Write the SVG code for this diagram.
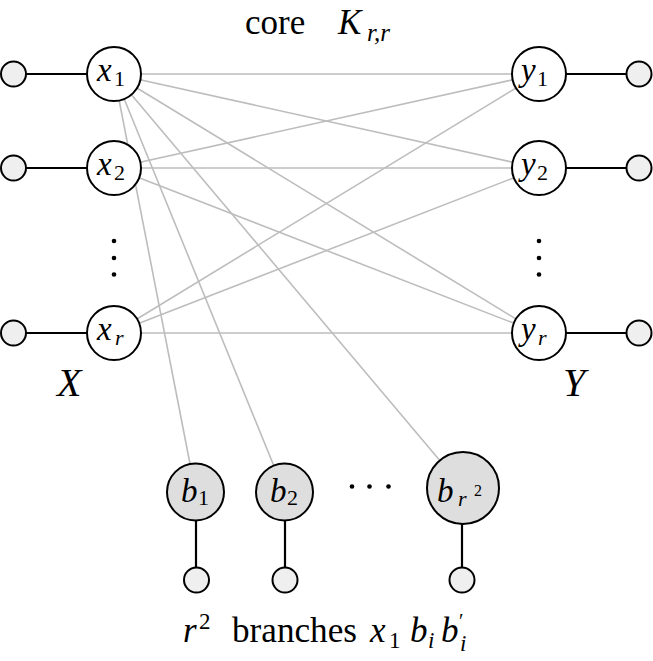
<svg xmlns="http://www.w3.org/2000/svg" width="653" height="661" viewBox="0 0 653 661">
<style>
.core{stroke:#bdbdbd;stroke-width:1.6;fill:none}
.pend{stroke:#000;stroke-width:2.2;fill:none}
.main{fill:#fff;stroke:#000;stroke-width:2}
.leaf{fill:#efefef;stroke:#000;stroke-width:2}
.br{fill:#dedede;stroke:#000;stroke-width:2}
.dot{fill:#000}
</style>
<g id="connectors">
  <line class="core" x1="114" y1="74" x2="539" y2="74"/>
  <line class="core" x1="114" y1="74" x2="539" y2="168"/>
  <line class="core" x1="114" y1="74" x2="539" y2="333"/>
  <line class="core" x1="114" y1="168" x2="539" y2="74"/>
  <line class="core" x1="114" y1="168" x2="539" y2="168"/>
  <line class="core" x1="114" y1="168" x2="539" y2="333"/>
  <line class="core" x1="114" y1="333" x2="539" y2="74"/>
  <line class="core" x1="114" y1="333" x2="539" y2="168"/>
  <line class="core" x1="114" y1="333" x2="539" y2="333"/>
  <line class="core" x1="114" y1="74" x2="195.5" y2="492"/>
  <line class="core" x1="114" y1="74" x2="284.5" y2="492"/>
  <line class="core" x1="114" y1="74" x2="463" y2="488"/>
  <line class="pend" x1="13.5" y1="74" x2="87" y2="74"/>
  <line class="pend" x1="13.5" y1="168" x2="87" y2="168"/>
  <line class="pend" x1="13.5" y1="333" x2="87" y2="333"/>
  <line class="pend" x1="566" y1="74" x2="639" y2="74"/>
  <line class="pend" x1="566" y1="168" x2="639" y2="168"/>
  <line class="pend" x1="566" y1="333" x2="639" y2="333"/>
  <line class="pend" x1="196" y1="520" x2="196" y2="580"/>
  <line class="pend" x1="285" y1="520" x2="285" y2="580"/>
  <line class="pend" x1="462" y1="524" x2="462" y2="580"/>
</g>
<g font-family="Liberation Serif, DejaVu Serif, serif" fill="#000">
<g id="leaf-x1"><circle class="leaf" cx="13.5" cy="74" r="12.5"/></g>
<g id="leaf-x2"><circle class="leaf" cx="13.5" cy="168" r="12.5"/></g>
<g id="leaf-xr"><circle class="leaf" cx="13.5" cy="333" r="12.5"/></g>
<g id="leaf-y1"><circle class="leaf" cx="639" cy="74" r="12.5"/></g>
<g id="leaf-y2"><circle class="leaf" cx="639" cy="168" r="12.5"/></g>
<g id="leaf-yr"><circle class="leaf" cx="639" cy="333" r="12.5"/></g>
<g id="node-x1"><circle class="main" cx="114" cy="74" r="27"/><text font-style="italic" font-size="33" x="97" y="81">x</text><text font-size="22" x="114" y="86">1</text></g>
<g id="node-x2"><circle class="main" cx="114" cy="168" r="27"/><text font-style="italic" font-size="33" x="97" y="175">x</text><text font-size="22" x="114" y="180">2</text></g>
<g id="node-xr"><circle class="main" cx="114" cy="333" r="27"/><text font-style="italic" font-size="33" x="97" y="340">x</text><text font-style="italic" font-size="22" x="115" y="345">r</text></g>
<g id="node-y1"><circle class="main" cx="539" cy="74" r="27"/><text font-style="italic" font-size="33" x="521" y="81">y</text><text font-size="22" x="537" y="86">1</text></g>
<g id="node-y2"><circle class="main" cx="539" cy="168" r="27"/><text font-style="italic" font-size="33" x="521" y="175">y</text><text font-size="22" x="537" y="180">2</text></g>
<g id="node-yr"><circle class="main" cx="539" cy="333" r="27"/><text font-style="italic" font-size="33" x="521" y="340">y</text><text font-style="italic" font-size="22" x="538" y="345">r</text></g>
<g id="node-b1"><circle class="br" cx="195.5" cy="492" r="28.5"/><text font-style="italic" font-size="33" x="181" y="502">b</text><text font-size="22" x="198" y="505">1</text></g>
<g id="node-b2"><circle class="br" cx="284.5" cy="492" r="28.5"/><text font-style="italic" font-size="33" x="270" y="502">b</text><text font-size="22" x="287" y="505">2</text></g>
<g id="node-br2"><circle class="br" cx="463" cy="488" r="36"/><text font-style="italic" font-size="33" x="437" y="502">b</text><text font-style="italic" font-size="22" x="458" y="506">r</text><text font-size="16" x="474" y="496">2</text></g>
<g id="leaf-b1"><circle class="leaf" cx="196.5" cy="580" r="12.5"/></g>
<g id="leaf-b2"><circle class="leaf" cx="285" cy="580" r="12.5"/></g>
<g id="leaf-br2"><circle class="leaf" cx="462" cy="580" r="12.5"/></g>
<g id="vdots-left"><circle class="dot" cx="114" cy="241" r="2.3"/><circle class="dot" cx="114" cy="258" r="2.3"/><circle class="dot" cx="114" cy="274.5" r="2.3"/></g>
<g id="vdots-right"><circle class="dot" cx="539" cy="241" r="2.3"/><circle class="dot" cx="539" cy="258" r="2.3"/><circle class="dot" cx="539" cy="274.5" r="2.3"/></g>
<g id="hdots"><circle class="dot" cx="352" cy="486.5" r="2.3"/><circle class="dot" cx="369.5" cy="486.5" r="2.3"/><circle class="dot" cx="388.5" cy="486.5" r="2.3"/></g>
<g id="label-top">
  <text font-size="35" x="245" y="34">core</text>
  <text font-style="italic" font-size="35" x="338" y="34">K</text>
  <text font-style="italic" font-size="25" x="367" y="41">r,r</text>
</g>
<g id="label-X"><text font-style="italic" font-size="40" x="57" y="396">X</text></g>
<g id="label-Y"><text font-style="italic" font-size="40" x="563" y="396">Y</text></g>
<g id="label-bottom">
  <text font-style="italic" font-size="35" x="183" y="642">r</text>
  <text font-size="23" x="199" y="629">2</text>
  <text font-size="35" x="232" y="642" textLength="125" lengthAdjust="spacingAndGlyphs">branches</text>
  <text font-style="italic" font-size="35" x="370" y="642">x</text>
  <text font-size="23" x="389" y="648">1</text>
  <text font-style="italic" font-size="35" x="410" y="642">b</text>
  <text font-style="italic" font-size="23" x="428" y="648">i</text>
  <text font-style="italic" font-size="35" x="441" y="642">b</text>
  <text font-size="20" x="459" y="628">′</text>
  <text font-style="italic" font-size="23" x="460" y="651">i</text>
</g>
</g>
</svg>
